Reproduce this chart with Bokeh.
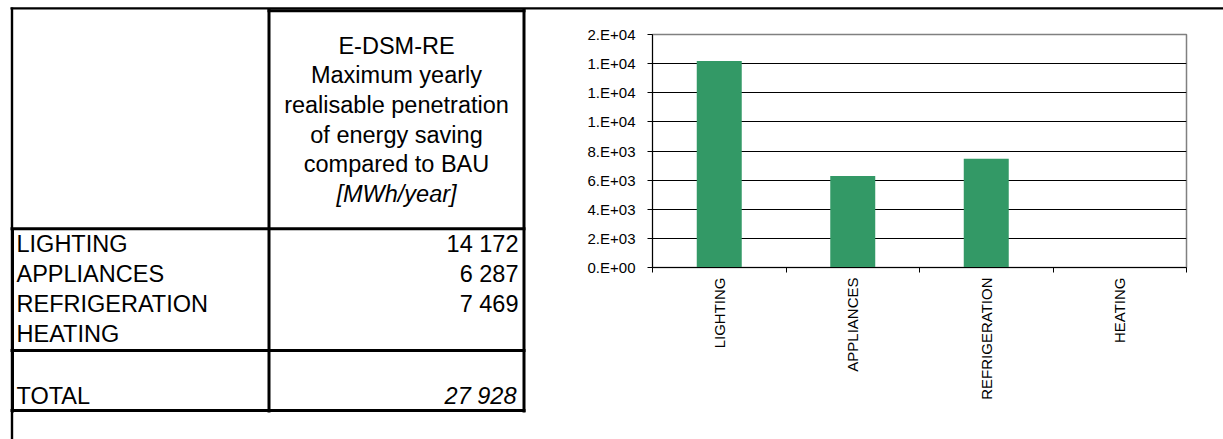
import math
from bokeh.plotting import figure
from bokeh.models import ColumnDataSource, Range1d, LinearAxis, FixedTicker
from bokeh.core.properties import value
from bokeh.embed import file_html
from bokeh.resources import INLINE

# ---------------- data ----------------
categories = ["LIGHTING", "APPLIANCES", "REFRIGERATION", "HEATING"]
savings = [14172, 6287, 7469, None]          # MWh/year, HEATING empty
total_label = "TOTAL"
total_value = 27928
header_lines = ["E-DSM-RE", "Maximum yearly", "realisable penetration",
                "of energy saving", "compared to BAU"]
unit_line = "[MWh/year]"
y_ticks = [0, 2000, 4000, 6000, 8000, 10000, 12000, 14000, 16000]
y_tick_labels = ["0.E+00", "2.E+03", "4.E+03", "6.E+03", "8.E+03",
                 "1.E+04", "1.E+04", "1.E+04", "2.E+04"]

FONT = "Liberation Sans"
GREEN = "#339966"


def fmt(v):
    return "" if v is None else f"{v:,}".replace(",", " ")


W, H = 1223, 439
FL, FR, FT, FB = 652, 1186, 34, 267      # chart frame in page pixels

n = len(categories)
centers = [i + 0.5 for i in range(n)]

c = figure(width=W, height=H, x_range=Range1d(0, n), y_range=Range1d(0, y_ticks[-1]),
           output_backend="svg", toolbar_location=None, x_axis_location=None,
           min_border_left=FL, min_border_right=W - FR, min_border_top=FT,
           min_border_bottom=H - FB, outline_line_color="#808080", outline_line_width=1.5,
           background_fill_color="white", border_fill_color="white")
# page-pixel coordinate system for the surrounding sheet / table
c.extra_x_ranges = {"px": Range1d(FL, FR)}
c.extra_y_ranges = {"px": Range1d(FB, FT)}

# ---- bars ----
src = ColumnDataSource(dict(x=centers, val=[v if v is not None else 0 for v in savings]))
c.vbar(x="x", top="val", width=0.337, source=src, fill_color=GREEN, line_color=None)

# ---- y axis ----
ya = c.yaxis[0]
ya.ticker = FixedTicker(ticks=y_ticks)
ya.major_label_overrides = {float(k): lab for k, lab in zip(y_ticks, y_tick_labels)}
ya.major_tick_in = 0
ya.major_tick_out = 5
ya.minor_tick_line_color = None
ya.axis_line_color = "black"
ya.major_tick_line_color = "black"
ya.major_label_standoff = 12
ya.major_label_text_font = FONT
ya.major_label_text_font_size = "15px"
ya.major_label_text_color = "black"

c.ygrid[0].ticker = ya.ticker
c.ygrid[0].grid_line_color = "black"
c.ygrid[0].grid_line_width = 1
c.xgrid.visible = False

# ---- x axis: ticks at category boundaries ----
ta = LinearAxis(ticker=FixedTicker(ticks=list(range(n + 1))),
                major_tick_in=0, major_tick_out=5, minor_tick_line_color=None,
                major_label_text_font_size="0px", major_label_standoff=0,
                axis_line_color="black", major_tick_line_color="black")
ta.major_label_overrides = {float(i): "" for i in range(n + 1)}
c.add_layout(ta, "below")

# ---- x axis: category names at centres ----
ca = LinearAxis(ticker=FixedTicker(ticks=centers), major_label_orientation=math.pi / 2,
                axis_line_color=None, major_tick_line_color=None, minor_tick_line_color=None,
                major_tick_out=0, major_tick_in=0, major_label_standoff=5,
                major_label_text_font=FONT, major_label_text_font_size="15px",
                major_label_text_color="black")
ca.major_label_overrides = {float(x): name for x, name in zip(centers, categories)}
c.add_layout(ca, "below")

# ---------------- sheet lines and table (page pixels, unclipped overlay) ----------------
kw = dict(x_range_name="px", y_range_name="px", level="overlay")

# sheet frame lines
c.segment(x0=[10, 11.5], y0=[7.9, 7], x1=[W, 11.5], y1=[7.9, H],
          line_color="black", line_width=2.4, **kw)
# thick table borders
bx0 = [12, 268.5, 523.5, 267, 10, 10, 10]
by0 = [228, 8, 8, 10.2, 228.3, 350, 410]
bx1 = [12, 268.5, 523.5, 525, 525, 525, 525]
by1 = [412, 412, 412, 10.2, 228.3, 350, 410]
c.segment(x0=bx0, y0=by0, x1=bx1, y1=by1, line_color="black", line_width=3, **kw)

tfont = value(FONT)
TS = "23.5px"
hx = 396
hy = [45, 74, 104, 134, 163]
c.text(x=[hx] * len(header_lines), y=hy, text=header_lines, text_font=tfont,
       text_font_size=TS, text_align="center", text_baseline="middle", text_color="black", **kw)
c.text(x=[hx], y=[193], text=[unit_line], text_font=tfont, text_font_size=TS,
       text_font_style="italic", text_align="center", text_baseline="middle",
       text_color="black", **kw)

ry = [243 + 30 * i for i in range(n)]
c.text(x=[16] * n, y=ry, text=categories, text_font=tfont, text_font_size=TS,
       text_align="left", text_baseline="middle", text_color="black", **kw)
c.text(x=[518] * n, y=ry, text=[fmt(v) for v in savings], text_font=tfont,
       text_font_size=TS, text_align="right", text_baseline="middle", text_color="black", **kw)
c.text(x=[16], y=[395], text=[total_label], text_font=tfont, text_font_size=TS,
       text_align="left", text_baseline="middle", text_color="black", **kw)
c.text(x=[516], y=[395], text=[fmt(total_value)], text_font=tfont, text_font_size=TS,
       text_font_style="italic", text_align="right", text_baseline="middle",
       text_color="black", **kw)

open("out.html", "w").write(file_html(c, INLINE))
